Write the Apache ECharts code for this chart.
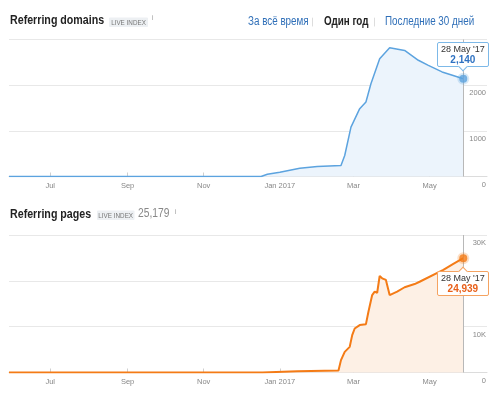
<!DOCTYPE html>
<html>
<head>
<meta charset="utf-8">
<script src="https://cdn.jsdelivr.net/npm/echarts@6/dist/echarts.min.js"></script>
<style>
  html, body { margin: 0; padding: 0; background: #fff; }
  #wrap { position: relative; width: 500px; height: 397px; overflow: hidden; }
  #domains { position: absolute; left: 0; top: 0; width: 500px; height: 198px; }
  #pages { position: absolute; left: 0; top: 198px; width: 500px; height: 199px; }
</style>
</head>
<body>
<div id="wrap"><div id="domains"></div><div id="pages"></div></div>
<script>
const FONT = "'Liberation Sans', Arial, sans-serif";
// the screenshot is squeezed horizontally, so header text is narrowed
const SQUEEZE = 0.82;

// x axis
const rangeStart = '2016-05-29';
const rangeEnd = '2017-06-16';
const monthTicks = ['2016-07-01', '2016-09-01', '2016-11-01', '2017-01-01', '2017-03-01', '2017-05-01'];
const monthLabels = ['Jul', 'Sep', 'Nov', 'Jan 2017', 'Mar', 'May'];
const shortMonths = ['Jan', 'Feb', 'Mar', 'Apr', 'May', 'Jun', 'Jul', 'Aug', 'Sep', 'Oct', 'Nov', 'Dec'];

// referring domains
const domainDates = ['2016-05-29', '2016-12-17', '2016-12-22', '2017-01-01', '2017-01-17', '2017-01-31',
  '2017-02-19', '2017-02-22', '2017-02-27', '2017-03-06', '2017-03-11', '2017-03-15', '2017-03-22',
  '2017-03-30', '2017-04-11', '2017-04-22', '2017-04-30', '2017-05-11', '2017-05-18', '2017-05-28'];
const domainValues = [0, 0, 50, 95, 180, 220,
  240, 460, 1080, 1485, 1630, 2030, 2580,
  2820, 2760, 2545, 2435, 2290, 2230, 2140];
const domainTicks = [0, 1000, 2000, 3000];
const domainTickLabels = ['0', '1000', '2000', '3000'];

// referring pages
const pageDates = ['2016-05-29', '2016-12-18', '2017-01-15', '2017-02-17', '2017-02-19', '2017-02-22',
  '2017-02-26', '2017-02-28', '2017-03-02', '2017-03-06', '2017-03-11', '2017-03-13', '2017-03-16',
  '2017-03-18', '2017-03-20', '2017-03-22', '2017-03-24', '2017-03-27', '2017-03-28', '2017-03-30',
  '2017-04-05', '2017-04-11', '2017-04-19', '2017-04-23', '2017-05-12', '2017-05-20', '2017-05-28'];
const pageValues = [0, 0, 250, 450, 2700, 4500,
  5600, 8150, 9600, 10350, 10550, 13250, 16900,
  17650, 17400, 21050, 20550, 20200, 19100, 16900,
  17650, 18600, 19300, 19800, 22400, 23700, 24939];
const pageTicks = [0, 10000, 20000, 30000];
const pageTickLabels = ['0', '10K', '20K', '30K'];
const pagesTotal = 25179;

function ts(s) {
  const p = s.split('-').map(Number);
  return new Date(p[0], p[1] - 1, p[2]).getTime();
}
const tickTs = monthTicks.map(ts);

function txt(x, y, text, font, fill, align) {
  return {
    type: 'text', x: x, y: y, scaleX: SQUEEZE, silent: true,
    style: { text: text, font: font, fill: fill, align: align || 'left', verticalAlign: 'middle',
      textAlign: align || 'left', textVerticalAlign: 'middle' }
  };
}
function box(x, y, w, h, fill) {
  return { type: 'rect', silent: true, shape: { x: x, y: y, width: w, height: h, r: 1 }, style: { fill: fill } };
}

function makeChart(el, c) {
  const chart = echarts.init(el, null, { renderer: 'canvas' });
  const lastI = c.dates.length - 1;
  const lastT = ts(c.dates[lastI]);
  chart.setOption({
    animation: false,
    textStyle: { fontFamily: FONT },
    graphic: c.graphic,
    grid: { left: 9, right: 13, top: c.top, bottom: c.bottom },
    tooltip: {
      trigger: 'item', triggerOn: 'none', alwaysShowContent: true, position: c.tipPos,
      transitionDuration: 0, backgroundColor: '#fff', borderColor: c.tipBorder, borderWidth: 1,
      padding: [1, 3], extraCssText: 'box-shadow:none;border-radius:2px;text-align:center;' + c.tipShift,
      formatter: function (p) {
        const d = new Date(p.value[0]);
        const dateStr = d.getDate() + ' ' + shortMonths[d.getMonth()] + " '" + String(d.getFullYear()).slice(2);
        return '<div style="font:9px ' + FONT + ';color:#333;line-height:10px">' + dateStr + '</div>' +
          '<div style="font:bold 10px ' + FONT + ';color:' + c.valueColor + ';line-height:11px">' +
          p.value[1].toLocaleString('en-US') + '</div>';
      }
    },
    xAxis: {
      type: 'value', min: ts(rangeStart), max: ts(rangeEnd),
      axisLine: { lineStyle: { color: '#dcdcdc' } },
      axisTick: { show: true, inside: true, length: 4, lineStyle: { color: '#cfcfcf' }, customValues: tickTs },
      axisLabel: {
        customValues: tickTs, color: '#888', fontSize: 7.5, fontFamily: FONT, margin: 5,
        formatter: function (v) {
          let best = 0;
          tickTs.forEach(function (t, i) { if (Math.abs(t - v) < Math.abs(tickTs[best] - v)) best = i; });
          return monthLabels[best];
        }
      },
      splitLine: { show: false }
    },
    yAxis: {
      type: 'value', position: 'right', min: 0, max: c.ticks[c.ticks.length - 1],
      interval: c.ticks[1] - c.ticks[0],
      axisLine: { show: false }, axisTick: { show: false },
      splitLine: { lineStyle: { color: '#e8e8e8' } },
      axisLabel: {
        inside: true, margin: 1, verticalAlign: 'top', padding: [4, 0, 0, 0],
        color: '#888', fontSize: 7.5, fontFamily: FONT,
        formatter: function (v) { return c.tickLabels[c.ticks.indexOf(v)]; }
      }
    },
    series: [
      {
        type: 'line', symbol: 'none', showSymbol: false, z: 2,
        data: c.dates.map(function (d, i) { return [ts(d), c.values[i]]; }),
        lineStyle: { color: c.color, width: c.lineWidth },
        areaStyle: { color: c.fill, opacity: 1 },
        markLine: {
          silent: true, symbol: 'none', label: { show: false },
          lineStyle: { color: '#b8b8b8', width: 1, type: 'solid' },
          data: [{ xAxis: lastT }]
        }
      },
      {
        type: 'scatter', z: 5, symbolSize: 8,
        emphasis: { disabled: true },
        itemStyle: { color: c.color, borderColor: c.halo, borderWidth: 4 },
        data: [[lastT, c.values[lastI]]]
      }
    ]
  });
  chart.dispatchAction({ type: 'showTip', seriesIndex: 1, dataIndex: 0 });
  return chart;
}

makeChart(document.getElementById('domains'), {
  dates: domainDates, values: domainValues, ticks: domainTicks, tickLabels: domainTickLabels,
  top: 39.5, bottom: 21.5, color: '#5ca3df', fill: '#ecf4fc', lineWidth: 1.5,
  halo: 'rgba(92,163,223,0.3)', tipBorder: '#7db9e8', valueColor: '#2f72c2', tipPos: 'top',
  tipShift: 'margin-top:4px;',
  graphic: [
    txt(10, 20, 'Referring domains', 'bold 13px ' + FONT, '#222'),
    box(109, 17.5, 39, 9.5, '#edf0f3'),
    txt(128.5, 22.5, 'LIVE INDEX', '7.7px ' + FONT, '#777', 'center'),
    txt(152, 18, 'i', '8px ' + FONT, '#999'),
    txt(248, 22, 'За всё время', '12px ' + FONT, '#2f6fb8'),
    box(312, 17.5, 1, 9, '#dddddd'),
    txt(324, 22, 'Один год', 'bold 12px ' + FONT, '#222'),
    box(374, 17.5, 1, 9, '#dddddd'),
    txt(385, 22, 'Последние 30 дней', '12px ' + FONT, '#2f6fb8')
  ]
});

makeChart(document.getElementById('pages'), {
  dates: pageDates, values: pageValues, ticks: pageTicks, tickLabels: pageTickLabels,
  top: 37, bottom: 24.5, color: '#f47b16', fill: '#fdf0e5', lineWidth: 2,
  halo: 'rgba(244,123,22,0.3)', tipBorder: '#f5a361', valueColor: '#e8601a', tipPos: 'bottom',
  tipShift: 'margin-top:-3px;',
  graphic: [
    txt(10, 16, 'Referring pages', 'bold 13px ' + FONT, '#222'),
    box(97, 12.5, 37.5, 9.5, '#edf0f3'),
    txt(115.7, 17.5, 'LIVE INDEX', '7.7px ' + FONT, '#777', 'center'),
    txt(138, 16, pagesTotal.toLocaleString('en-US'), '12.5px ' + FONT, '#888'),
    txt(175, 14, 'i', '8px ' + FONT, '#999')
  ]
});
</script>
</body>
</html>
